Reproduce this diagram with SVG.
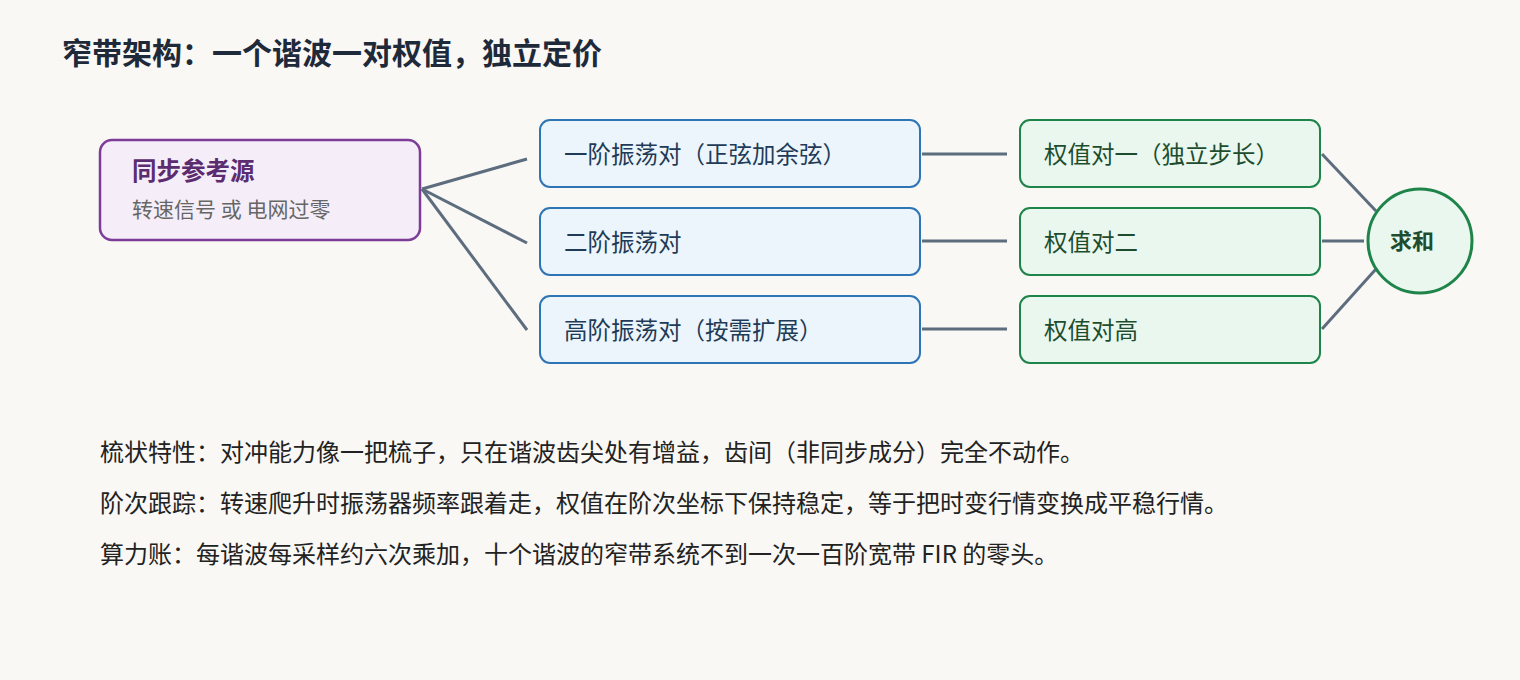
<svg xmlns="http://www.w3.org/2000/svg" width="1520" height="680" viewBox="0 0 1520 680">
<style>
text{font-family:"Noto Sans CJK SC","Noto Sans",sans-serif}
.mid rect{fill:#ebf5fb;stroke:#2e75b6;stroke-width:2}
.mid text{font-size:23.5px;fill:#1f3b57}
.w rect{fill:#e9f7ef;stroke:#1e8449;stroke-width:2}
.w text{font-size:23.5px;fill:#1d4d2e}
.note{font-size:24px;fill:#222}
#conn line{stroke:#5d6d7e;stroke-width:3}
</style>
<rect width="1520" height="680" fill="#f9f8f5"/>
<text x="62" y="64" font-size="30" font-weight="bold" fill="#1e2a3a">窄带架构：一个谐波一对权值，独立定价</text>
<g id="conn">
<line x1="422" y1="189" x2="527" y2="159"/>
<line x1="422" y1="189" x2="527" y2="243"/>
<line x1="422" y1="189" x2="527" y2="330"/>
<line x1="922" y1="154" x2="1007" y2="154"/>
<line x1="922" y1="241" x2="1007" y2="241"/>
<line x1="922" y1="329" x2="1007" y2="329"/>
<line x1="1322" y1="154" x2="1376" y2="211"/>
<line x1="1322" y1="241" x2="1364" y2="241"/>
<line x1="1322" y1="329" x2="1376" y2="269"/>
</g>
<g id="src">
<rect x="100" y="140" width="320" height="100" rx="12" fill="#f5eef8" stroke="#7d3c98" stroke-width="2.5"/>
<text x="132" y="180" font-size="24.5" font-weight="bold" fill="#5b2c6f">同步参考源</text>
<text x="132" y="217" font-size="21" fill="#666">转速信号 或 电网过零</text>
</g>
<g id="h1" class="mid"><rect x="540" y="120" width="380" height="67" rx="10"/><text x="564" y="163">一阶振荡对（正弦加余弦）</text></g>
<g id="h2" class="mid"><rect x="540" y="208" width="380" height="67" rx="10"/><text x="564" y="251">二阶振荡对</text></g>
<g id="h3" class="mid"><rect x="540" y="296" width="380" height="67" rx="10"/><text x="564" y="339">高阶振荡对（按需扩展）</text></g>
<g id="w1" class="w"><rect x="1020" y="120" width="300" height="67" rx="10"/><text x="1044" y="163">权值对一（独立步长）</text></g>
<g id="w2" class="w"><rect x="1020" y="208" width="300" height="67" rx="10"/><text x="1044" y="251">权值对二</text></g>
<g id="w3" class="w"><rect x="1020" y="296" width="300" height="67" rx="10"/><text x="1044" y="339">权值对高</text></g>
<g id="sum">
<circle cx="1420" cy="241" r="52" fill="#e9f7ef" stroke="#1e8449" stroke-width="3"/>
<text x="1412" y="249" font-size="22" font-weight="bold" fill="#1d4d2e" text-anchor="middle">求和</text>
</g>
<text class="note" x="100" y="461">梳状特性：对冲能力像一把梳子，只在谐波齿尖处有增益，齿间（非同步成分）完全不动作。</text>
<text class="note" x="100" y="512">阶次跟踪：转速爬升时振荡器频率跟着走，权值在阶次坐标下保持稳定，等于把时变行情变换成平稳行情。</text>
<text class="note" x="100" y="563">算力账：每谐波每采样约六次乘加，十个谐波的窄带系统不到一次一百阶宽带 FIR 的零头。</text>
</svg>
